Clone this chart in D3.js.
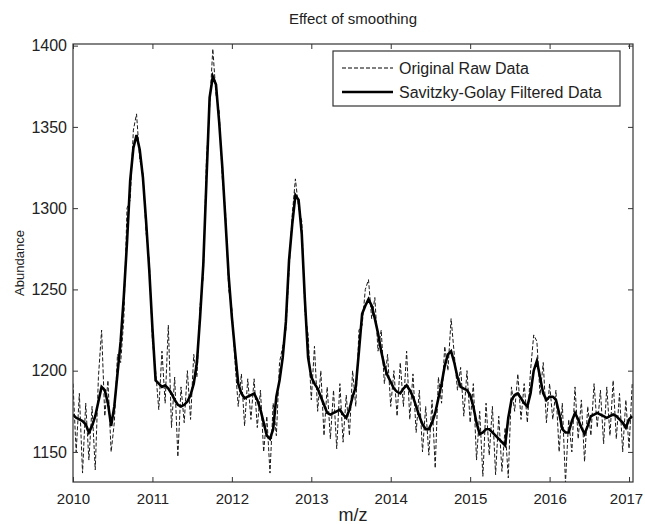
<!DOCTYPE html>
<html>
<head>
<meta charset="utf-8">
<script src="https://cdn.jsdelivr.net/npm/d3@7"></script>
<style>
  html, body { margin: 0; padding: 0; background: #fff; }
  svg { display: block; font-family: "Liberation Sans", Arial, Helvetica, sans-serif; }
</style>
</head>
<body>
<svg id="chart" width="645" height="524"></svg>
<script>
// Sampling of the spectrum along m/z
const mzStart = 2010;
const mzStep = 0.04;

// Measured abundance (noisy spectrum)
const rawData = [
  1192, 1150, 1186, 1137, 1180, 1145, 1178, 1139, 1196, 1225,
  1172, 1194, 1150, 1168, 1210, 1205, 1232, 1300, 1305, 1348,
  1358, 1330, 1322, 1285, 1268, 1218, 1200, 1176, 1212, 1180,
  1228, 1165, 1196, 1147, 1190, 1168, 1200, 1170, 1210, 1196,
  1240, 1258, 1330, 1362, 1398, 1370, 1360, 1318, 1298, 1250,
  1238, 1205, 1178, 1198, 1166, 1195, 1170, 1195, 1165, 1188,
  1150, 1172, 1137, 1180, 1160, 1205, 1215, 1225, 1262, 1296,
  1318, 1300, 1292, 1236, 1222, 1182, 1215, 1175, 1200, 1160,
  1190, 1158, 1188, 1152, 1192, 1156, 1185, 1160, 1200, 1178,
  1225, 1228, 1250, 1256, 1232, 1245, 1212, 1225, 1192, 1210,
  1178, 1200, 1172, 1205, 1178, 1212, 1170, 1198, 1162, 1188,
  1150, 1178, 1148, 1182, 1140, 1196, 1180, 1215, 1200, 1232,
  1210, 1188, 1202, 1172, 1200, 1168, 1192, 1145, 1175, 1135,
  1180, 1148, 1178, 1136, 1172, 1138, 1165, 1134, 1190, 1175,
  1198, 1170, 1192, 1168, 1200, 1222, 1218, 1185, 1205, 1168,
  1192, 1170, 1188, 1150, 1180, 1131, 1170, 1150, 1190, 1158,
  1182, 1144, 1178, 1160, 1192, 1165, 1188, 1155, 1190, 1160,
  1194, 1158, 1186, 1150, 1182, 1152, 1192
];

// Savitzky-Golay filtered abundance
const smoothData = [
  1173, 1171, 1170, 1169, 1167, 1162, 1166, 1172, 1181, 1190,
  1188, 1180, 1166, 1178, 1198, 1218, 1246, 1279, 1317, 1337,
  1345, 1336, 1319, 1292, 1262, 1226, 1194, 1192, 1190, 1191,
  1189, 1186, 1182, 1179, 1178, 1179, 1181, 1185, 1192, 1205,
  1233, 1265, 1317, 1368, 1381, 1376, 1353, 1325, 1292, 1258,
  1233, 1212, 1192, 1186, 1183, 1184, 1185, 1186, 1182, 1176,
  1168, 1160, 1158, 1164, 1184, 1194, 1208, 1230, 1268, 1290,
  1308, 1305, 1284, 1243, 1208, 1196, 1192, 1189, 1184, 1179,
  1174, 1173, 1174, 1175, 1176, 1173, 1171, 1176, 1184, 1190,
  1212, 1235, 1240, 1244, 1240, 1232, 1223, 1212, 1203, 1197,
  1193, 1189, 1187, 1186, 1189, 1191, 1188, 1184, 1178, 1172,
  1167, 1164, 1164, 1168, 1174, 1183, 1192, 1203, 1210, 1212,
  1205, 1196, 1190, 1189, 1188, 1185, 1178, 1168, 1161, 1162,
  1164, 1164, 1162, 1160, 1158, 1156, 1154, 1171, 1182, 1185,
  1186, 1183, 1180, 1178, 1186, 1200, 1206, 1196, 1186, 1182,
  1184, 1184, 1182, 1174, 1164, 1162, 1162, 1169, 1174, 1170,
  1165, 1161, 1166, 1172, 1173, 1174, 1173, 1172, 1171, 1172,
  1173, 1172, 1170, 1168, 1165, 1170, 1172
];

const xTicks = [2010, 2011, 2012, 2013, 2014, 2015, 2016, 2017];
const yTicks = [1150, 1200, 1250, 1300, 1350, 1400];
const seriesNames = ["Original Raw Data", "Savitzky-Golay Filtered Data"];

const svg = d3.select("#chart");
const plot = { left: 73, right: 633, top: 44, bottom: 482 };

const x = d3.scaleLinear().domain([2010, 2017.05]).range([plot.left, plot.right]);
const y = d3.scaleLinear().domain([1131.5, 1401]).range([plot.bottom, plot.top]);

const axisColor = "#333";
const textColor = "#222";

svg.append("rect")
  .attr("x", plot.left).attr("y", plot.top)
  .attr("width", plot.right - plot.left).attr("height", plot.bottom - plot.top)
  .attr("fill", "#fff");

// Clip curves to the axes box
svg.append("clipPath").attr("id", "plotClip")
  .append("rect")
  .attr("x", plot.left).attr("y", plot.top)
  .attr("width", plot.right - plot.left).attr("height", plot.bottom - plot.top);

const mzAt = i => mzStart + i * mzStep;
const line = d3.line().x((d, i) => x(mzAt(i))).y(d => y(d));

const curves = svg.append("g").attr("clip-path", "url(#plotClip)");

curves.append("path")
  .datum(rawData)
  .attr("d", line)
  .attr("fill", "none")
  .attr("stroke", "#1a1a1a")
  .attr("stroke-width", 1)
  .attr("stroke-dasharray", "4,2");

curves.append("path")
  .datum(smoothData)
  .attr("d", line)
  .attr("fill", "none")
  .attr("stroke", "#000")
  .attr("stroke-width", 2.6)
  .attr("stroke-linejoin", "miter");

// Axes: ticks point inward on all four sides
const tickLen = 5;
const styleAxis = g => {
  g.select(".domain").remove();
  g.selectAll(".tick line").attr("stroke", axisColor).attr("stroke-width", 1);
  g.selectAll(".tick text").attr("fill", textColor).attr("font-size", 16);
};

const xAxisG = svg.append("g")
  .attr("transform", `translate(0,${plot.bottom})`)
  .call(d3.axisBottom(x).tickValues(xTicks).tickFormat(d3.format("d"))
    .tickSizeInner(-tickLen).tickSizeOuter(0).tickPadding(11))
  .call(styleAxis);
xAxisG.selectAll(".tick text").attr("font-size", 15);
// keep the last label inside the figure edge
xAxisG.selectAll(".tick text").filter(d => d === xTicks[xTicks.length - 1]).attr("dx", "-3");

svg.append("g")
  .attr("transform", `translate(0,${plot.top})`)
  .call(d3.axisTop(x).tickValues(xTicks).tickFormat("")
    .tickSizeInner(-tickLen).tickSizeOuter(0))
  .call(styleAxis);

svg.append("g")
  .attr("transform", `translate(${plot.left},0)`)
  .call(d3.axisLeft(y).tickValues(yTicks).tickFormat(d3.format("d"))
    .tickSizeInner(-tickLen).tickSizeOuter(0).tickPadding(6))
  .call(styleAxis);

svg.append("g")
  .attr("transform", `translate(${plot.right},0)`)
  .call(d3.axisRight(y).tickValues(yTicks).tickFormat("")
    .tickSizeInner(-tickLen).tickSizeOuter(0))
  .call(styleAxis);

// Axes box
svg.append("rect")
  .attr("x", plot.left).attr("y", plot.top)
  .attr("width", plot.right - plot.left).attr("height", plot.bottom - plot.top)
  .attr("fill", "none").attr("stroke", axisColor).attr("stroke-width", 1.2);

// Title and axis labels
svg.append("text")
  .attr("x", (plot.left + plot.right) / 2).attr("y", 24)
  .attr("text-anchor", "middle").attr("font-size", 15).attr("fill", textColor)
  .text("Effect of smoothing");

svg.append("text")
  .attr("x", (plot.left + plot.right) / 2).attr("y", 521)
  .attr("text-anchor", "middle").attr("font-size", 18).attr("fill", textColor)
  .text("m/z");

svg.append("text")
  .attr("transform", `translate(24,${(plot.top + plot.bottom) / 2}) rotate(-90)`)
  .attr("text-anchor", "middle").attr("font-size", 13).attr("fill", textColor)
  .text("Abundance");

// Legend
const legend = svg.append("g");
legend.append("rect")
  .attr("x", 333).attr("y", 51).attr("width", 287).attr("height", 55)
  .attr("fill", "#fff").attr("stroke", axisColor).attr("stroke-width", 1.2);

const legendStyles = [
  { dash: "4,2", width: 1 },
  { dash: null, width: 2.6 }
];
seriesNames.forEach((name, k) => {
  const ly = 68 + k * 24;
  legend.append("line")
    .attr("x1", 342).attr("x2", 393).attr("y1", ly).attr("y2", ly)
    .attr("stroke", "#000").attr("stroke-width", legendStyles[k].width)
    .attr("stroke-dasharray", legendStyles[k].dash);
  legend.append("text")
    .attr("x", 399).attr("y", ly).attr("dy", "0.36em")
    .attr("font-size", 16).attr("fill", textColor)
    .text(name);
});
</script>
</body>
</html>
